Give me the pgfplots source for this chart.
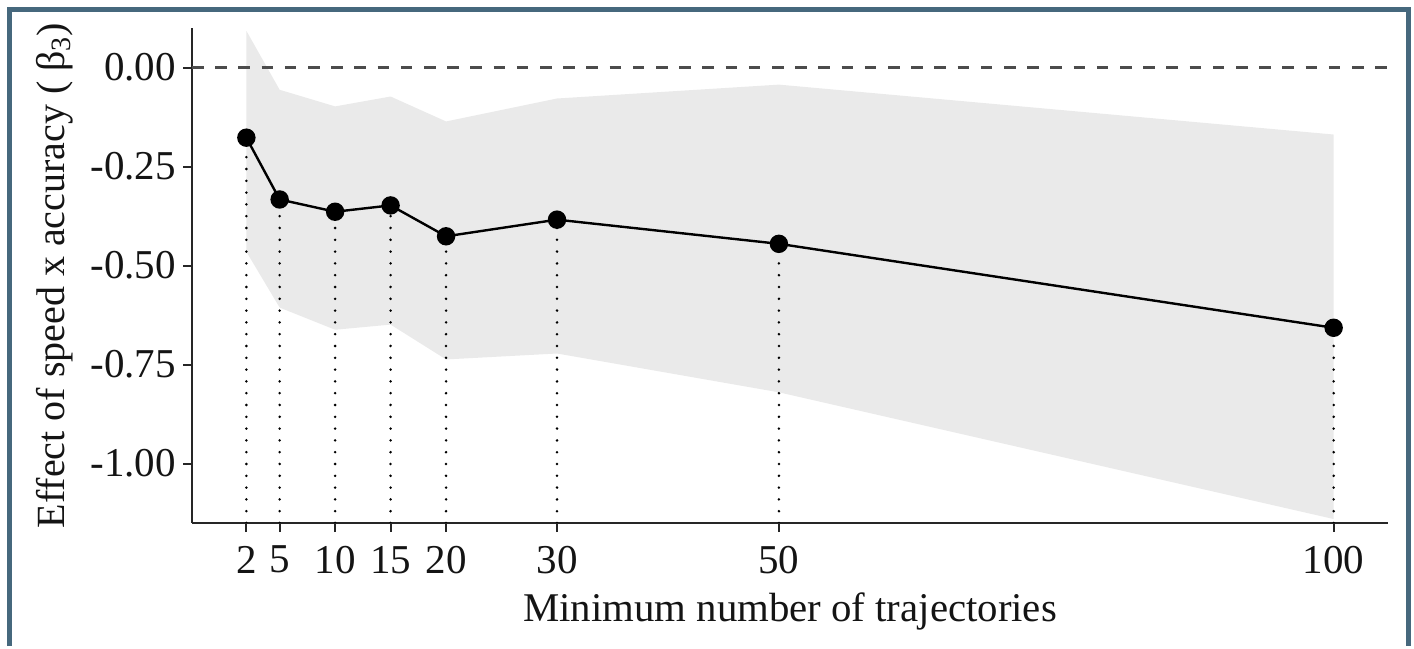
\documentclass[border=0pt]{standalone}
\usepackage{fontspec}
\setmainfont{Liberation Serif}
\usepackage{pgfplots}
\pgfplotsset{compat=1.18}
\usepgfplotslibrary{fillbetween}

\definecolor{framecol}{RGB}{70,104,125}
\definecolor{ribbon}{RGB}{234,234,234}

\pgfplotsset{droplines/.style={black, line width=1.4pt, dash pattern=on 0pt off 5.9pt, line cap=round, forget plot}}

\begin{document}
\begin{tikzpicture}
\path (0,0) rectangle (707pt,323pt);
% panel frame, open at the bottom
\draw[framecol, line width=2.5pt] (4.75pt,0) -- (4.75pt,318.25pt) -- (704.25pt,318.25pt) -- (704.25pt,0);
\begin{axis}[
  at={(96pt,61.5pt)}, anchor=south west,
  scale only axis, width=598pt, height=247.5pt,
  xmin=-2.9, xmax=104.9, ymin=-1.15, ymax=0.10,
  axis x line=bottom, axis y line=left,
  axis line style={-, line width=1pt, black!85},
  xtick={2,5,10,15,20,30,50,100},
  xticklabels={2,5,10,15,20,30,50,100},
  ytick={-1,-0.75,-0.5,-0.25,0},
  yticklabels={-1.00,-0.75,-0.50,-0.25,0.00},
  tick align=outside, major tick length=4.5pt,
  tick style={line width=1pt, black!85},
  ticklabel style={font=\fontsize{20.5}{24}\selectfont, text=black!92},
  xticklabel style={yshift=-3.5pt},
  xlabel={Minimum number of trajectories},
  xlabel style={font=\fontsize{20.4}{24}\selectfont, text=black!92,
    at={(axis description cs:0.5,-0.2)}, anchor=base},
  ylabel={Effect of speed x accuracy ( β\textsubscript{3})},
  ylabel style={font=\fontsize{20}{24}\selectfont, text=black!92,
    at={(axis description cs:-0.115,0.5)}, anchor=center},
]
% 95% interval
\addplot[name path=upper, draw=none, forget plot] coordinates {
  (2,0.093) (5,-0.056) (10,-0.098) (15,-0.073) (20,-0.136) (30,-0.078) (50,-0.043) (100,-0.169)};
\addplot[name path=lower, draw=none, forget plot] coordinates {
  (2,-0.465) (5,-0.606) (10,-0.662) (15,-0.649) (20,-0.737) (30,-0.722) (50,-0.820) (100,-1.140)};
\addplot[fill=ribbon, draw=none] fill between[of=upper and lower];
% reference line at zero
\addplot[black!70, line width=1.3pt, dash pattern=on 5.8pt off 5.8pt] coordinates {(-2.9,0) (104.9,0)};
% drop lines from each estimate
\addplot[droplines] coordinates {(2,-1.15) (2,-0.177)};
\addplot[droplines] coordinates {(5,-1.15) (5,-0.333)};
\addplot[droplines] coordinates {(10,-1.15) (10,-0.364)};
\addplot[droplines] coordinates {(15,-1.15) (15,-0.348)};
\addplot[droplines] coordinates {(20,-1.15) (20,-0.426)};
\addplot[droplines] coordinates {(30,-1.15) (30,-0.384)};
\addplot[droplines] coordinates {(50,-1.15) (50,-0.445)};
\addplot[droplines] coordinates {(100,-1.15) (100,-0.657)};
% estimates
\addplot[black, line width=1.2pt, mark=*, mark size=4pt] coordinates {
  (2,-0.177) (5,-0.333) (10,-0.364) (15,-0.348) (20,-0.426) (30,-0.384) (50,-0.445) (100,-0.657)};
\end{axis}
\end{tikzpicture}
\end{document}
